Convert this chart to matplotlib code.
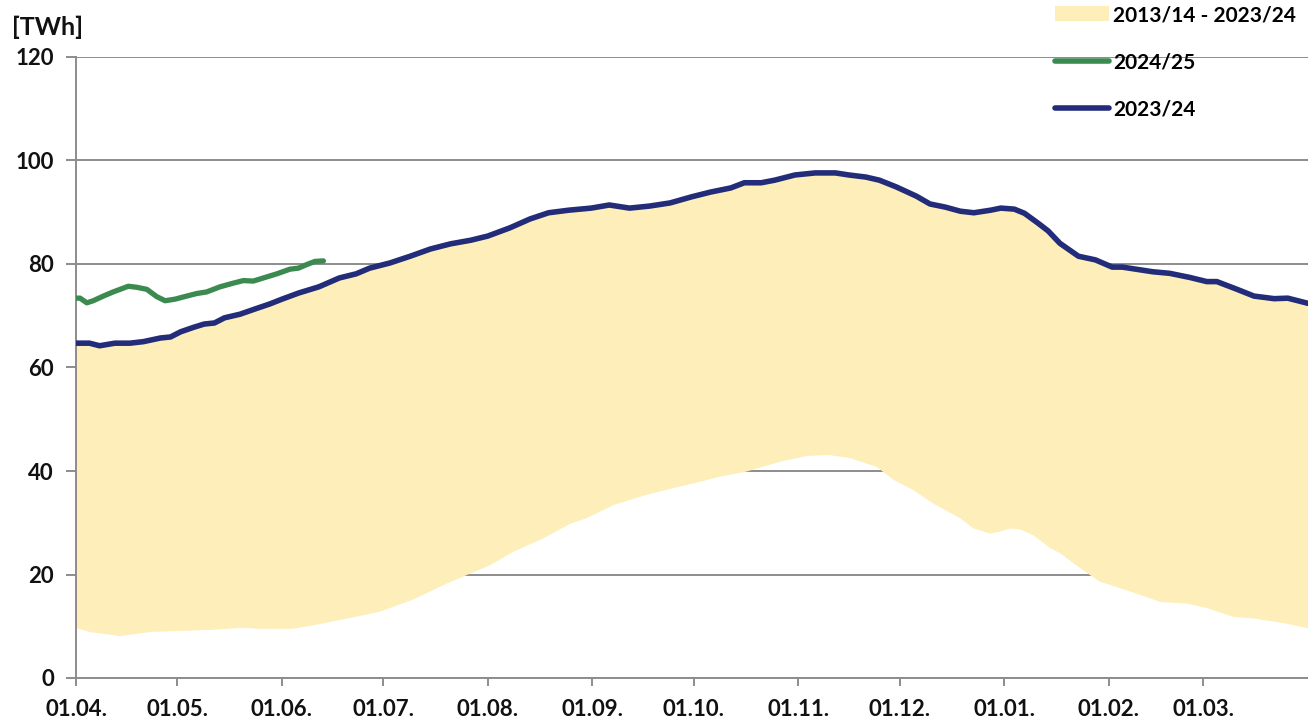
import matplotlib
matplotlib.use("Agg")
import matplotlib.pyplot as plt
from matplotlib.lines import Line2D
from matplotlib.patches import Patch
import numpy as np

plt.rcParams['font.family'] = ['Lato', 'DejaVu Sans']

# x tick labels (start day of each month, counted from 01.04.)
tick_days = [0, 30, 61, 91, 122, 153, 183, 214, 244, 275, 306, 334]
tick_labels = ["01.04.", "01.05.", "01.06.", "01.07.", "01.08.", "01.09.",
               "01.10.", "01.11.", "01.12.", "01.01.", "01.02.", "01.03."]

# 2023/24 storage level [TWh] (also upper edge of the 2013/14-2023/24 band)
days_2324 = [0, 4, 7, 11.5, 16, 20, 25, 28, 31, 35, 38, 41, 44, 48.6, 53, 57.5, 61, 66,
             72, 78, 83, 87, 93, 99, 105, 111, 117, 122, 128.6, 134.5, 140, 146, 152.6,
             158, 164, 170, 176, 182.5, 188, 194, 198, 203, 207, 213, 219, 225, 229, 234,
             238, 243, 249, 253, 257.5, 262, 266, 271, 274, 278, 281, 285, 288, 291.5,
             297, 302, 307, 310, 314, 319, 324, 330, 335, 338, 344, 349, 355, 359, 365]
vals_2324 = [64.7, 64.7, 64.2, 64.7, 64.7, 65.0, 65.7, 65.9, 66.9, 67.8, 68.4, 68.6, 69.6,
             70.3, 71.3, 72.3, 73.2, 74.4, 75.6, 77.3, 78.1, 79.2, 80.2, 81.5, 82.9, 83.9,
             84.6, 85.4, 87.0, 88.7, 89.9, 90.4, 90.8, 91.4, 90.8, 91.2, 91.8, 93.0, 93.9,
             94.7, 95.7, 95.7, 96.2, 97.2, 97.6, 97.6, 97.2, 96.8, 96.2, 94.9, 93.1, 91.6,
             91.0, 90.2, 89.9, 90.4, 90.8, 90.6, 89.8, 87.9, 86.4, 84.0, 81.5, 80.8, 79.4,
             79.4, 79.0, 78.5, 78.2, 77.4, 76.6, 76.6, 75.1, 73.8, 73.3, 73.4, 72.4]

# band 2013/14 - 2023/24: maximum equals 2023/24, minimum below
band_max_days = days_2324
band_max_vals = vals_2324
band_min_days = [0, 4, 8.6, 13, 17.5, 22, 31, 40, 49, 55, 64, 66, 72, 79.7, 85.6, 90, 100,
                 110, 115.8, 122.7, 129.6, 138.5, 146.4, 151.3, 159.2, 169, 177, 182.9,
                 190.8, 198.7, 208.6, 216.5, 222.9, 229.3, 237.2, 242.2, 248.1, 254, 261.9,
                 265.9, 270.8, 273.8, 276.7, 279.7, 283.6, 288.6, 291.6, 295.5, 300.4,
                 303.4, 310.6, 316.4, 321.2, 329.1, 335.1, 343, 349, 357.8, 363.7, 365]
band_min_vals = [9.7, 8.9, 8.5, 8.1, 8.5, 8.9, 9.1, 9.3, 9.7, 9.5, 9.5, 9.7, 10.4, 11.4,
                 12.2, 12.8, 15.2, 18.3, 19.9, 21.8, 24.4, 27.0, 29.8, 30.9, 33.4, 35.4,
                 36.7, 37.6, 38.9, 39.9, 41.8, 42.9, 43.1, 42.5, 40.8, 38.3, 36.3, 33.7,
                 30.9, 28.9, 27.9, 28.3, 28.9, 28.7, 27.6, 25.1, 24.1, 22.2, 19.9, 18.6,
                 17.1, 15.8, 14.7, 14.4, 13.5, 11.8, 11.5, 10.6, 9.8, 9.6]

# 2024/25 storage level [TWh]
days_2425 = [0, 1.2, 3.2, 5.1, 8.1, 11, 15.5, 18, 21, 23.9, 26.4, 29.3, 32.8, 35.8, 38.7,
             42.7, 46.6, 49.6, 52.5, 56.5, 59.5, 63.4, 65.9, 68.4, 70.8, 73.3]
vals_2425 = [73.4, 73.4, 72.5, 72.9, 73.8, 74.6, 75.7, 75.5, 75.1, 73.7, 72.9, 73.2, 73.8,
             74.3, 74.6, 75.6, 76.3, 76.8, 76.7, 77.5, 78.1, 79.0, 79.2, 79.9, 80.5, 80.6]

C_BAND = "#FDEEBA"
C_GREEN = "#3B8A4F"
C_NAVY = "#222C78"
C_GRID = "#8C8C8C"

fig = plt.figure(figsize=(13.08, 7.18), dpi=100)
ax = fig.add_axes([76 / 1308, 40 / 718, 1232 / 1308, 621 / 718])

ax.set_axisbelow(True)
ax.yaxis.grid(True, color=C_GRID, linewidth=1.4)

poly_x = np.concatenate([band_max_days, band_min_days[::-1]])
poly_y = np.concatenate([band_max_vals, band_min_vals[::-1]])
ax.fill(poly_x, poly_y, color=C_BAND, linewidth=0, zorder=2)

ax.plot(days_2425, vals_2425, color=C_GREEN, linewidth=3.8, solid_capstyle='round', zorder=4)
ax.plot(days_2324, vals_2324, color=C_NAVY, linewidth=4.0, solid_capstyle='round', zorder=3)

ax.set_xlim(0, 365)
ax.set_ylim(0, 120)
ax.set_yticks(range(0, 121, 20))
ax.set_xticks(tick_days)
ax.set_xticklabels(tick_labels)

for s in ['top', 'right']:
    ax.spines[s].set_visible(False)
for s in ['left', 'bottom']:
    ax.spines[s].set_color(C_GRID)
    ax.spines[s].set_linewidth(1.4)

ax.tick_params(axis='both', colors=C_GRID, width=1.4, length=7)
ax.tick_params(axis='y', pad=9, labelcolor='#111111', labelsize=16)
ax.tick_params(axis='x', pad=9, labelcolor='#111111', labelsize=16, length=6)
for lab in ax.get_xticklabels() + ax.get_yticklabels():
    lab.set_fontweight('bold')

fig.text(12 / 1308, 1 - 27 / 718, "[TWh]", fontsize=18, fontweight='bold',
         color='#111111', va='center', ha='left')

handles = [Patch(facecolor=C_BAND, edgecolor='none'),
           Line2D([], [], color=C_GREEN, linewidth=4, solid_capstyle='round'),
           Line2D([], [], color=C_NAVY, linewidth=4, solid_capstyle='round')]
labels = ["2013/14 - 2023/24", "2024/25", "2023/24"]
leg = fig.legend(handles, labels, loc='upper left',
                 bbox_to_anchor=(1055 / 1308, 1 - 5 / 718),
                 frameon=False, borderpad=0, borderaxespad=0,
                 handlelength=2.6, handletextpad=0.2, labelspacing=1.3,
                 prop={'size': 15, 'weight': 'bold'})

fig.savefig("out.png", dpi=100)
